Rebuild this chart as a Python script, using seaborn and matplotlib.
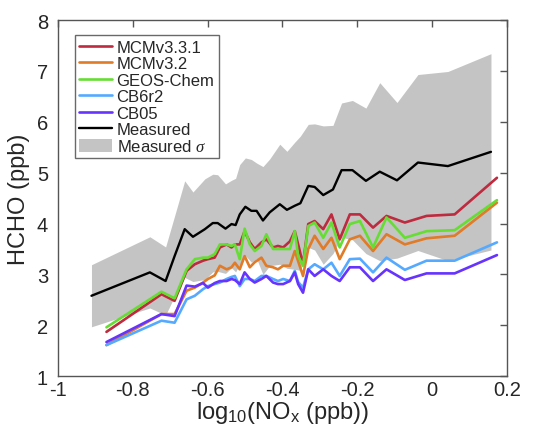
"""HCHO vs log10(NOx): box-model mechanisms against the measured mean and spread."""

import matplotlib

matplotlib.use("Agg")
import matplotlib.pyplot as plt
import seaborn as sns
from matplotlib.lines import Line2D
from matplotlib.patches import Patch

# measured binned mean and its standard deviation
measured_x = [-0.910, -0.754, -0.712, -0.688, -0.661, -0.639, -0.607, -0.586, -0.573,
              -0.552, -0.536, -0.525, -0.514, -0.499, -0.483, -0.469, -0.452, -0.434,
              -0.407, -0.388, -0.367, -0.352, -0.331, -0.314, -0.291, -0.265, -0.242,
              -0.213, -0.177, -0.140, -0.094, -0.038, 0.042, 0.157]
measured_hcho = [2.58, 3.04, 2.87, 3.36, 3.89, 3.74, 3.89, 4.01, 4.01,
                 3.90, 3.99, 3.97, 4.18, 4.33, 4.25, 4.25, 4.06, 4.22,
                 4.38, 4.27, 4.35, 4.40, 4.74, 4.72, 4.56, 4.67, 5.05,
                 5.05, 4.84, 5.02, 4.85, 5.20, 5.13, 5.41]
measured_sigma = [0.61, 0.70, 0.67, 0.79, 0.95, 0.88, 0.99, 0.96, 0.95,
                  0.88, 0.86, 0.92, 0.98, 0.96, 1.01, 0.94, 1.06, 1.05,
                  1.18, 1.15, 1.25, 1.32, 1.21, 1.24, 1.36, 1.26, 1.32,
                  1.37, 1.43, 1.75, 1.53, 1.73, 1.86, 1.93]

# model runs share their own NOx bins
model_x = [-0.870, -0.723, -0.688, -0.656, -0.634, -0.612, -0.599, -0.581, -0.567,
           -0.549, -0.536, -0.527, -0.514, -0.501, -0.487, -0.474, -0.456, -0.443,
           -0.425, -0.412, -0.398, -0.380, -0.367, -0.358, -0.345, -0.331, -0.314,
           -0.291, -0.269, -0.247, -0.220, -0.193, -0.158, -0.122, -0.073, -0.015,
           0.060, 0.173]
mcm331 = [1.87, 2.61, 2.48, 3.07, 3.20, 3.27, 3.30, 3.33, 3.53,
          3.59, 3.53, 3.59, 3.59, 3.85, 3.63, 3.50, 3.63, 3.69,
          3.53, 3.56, 3.53, 3.65, 3.85, 3.59, 3.20, 3.99, 4.05,
          3.89, 4.18, 3.69, 4.18, 4.18, 3.92, 4.15, 4.02, 4.15,
          4.18, 4.90]
mcm32 = [1.61, 2.22, 2.22, 2.68, 2.74, 2.84, 2.91, 2.98, 3.17,
         3.10, 3.14, 3.23, 3.10, 3.36, 3.14, 3.24, 3.33, 3.17,
         3.14, 3.10, 3.17, 3.17, 3.46, 3.26, 2.97, 3.50, 3.76,
         3.50, 3.72, 3.30, 3.69, 3.76, 3.46, 3.79, 3.59, 3.71,
         3.76, 4.41]
geos_chem = [1.96, 2.66, 2.53, 3.10, 3.30, 3.33, 3.33, 3.40, 3.59,
             3.59, 3.56, 3.59, 3.30, 3.90, 3.59, 3.46, 3.56, 3.79,
             3.50, 3.50, 3.50, 3.50, 3.85, 3.36, 3.17, 3.95, 4.02,
             3.72, 4.02, 3.53, 3.99, 4.05, 3.53, 4.12, 3.72, 3.85,
             3.87, 4.46]
cb6r2 = [1.61, 2.09, 2.05, 2.51, 2.58, 2.71, 2.77, 2.81, 2.84,
         2.91, 2.95, 2.97, 2.77, 2.91, 2.91, 2.87, 2.97, 2.97,
         2.91, 2.87, 2.91, 2.87, 3.07, 2.85, 2.74, 3.10, 3.20,
         3.10, 3.23, 2.97, 3.30, 3.31, 3.04, 3.33, 3.09, 3.27,
         3.27, 3.63]
cb05 = [1.67, 2.22, 2.18, 2.78, 2.76, 2.83, 2.74, 2.83, 2.87,
        2.87, 2.91, 2.89, 2.81, 3.04, 2.91, 2.84, 2.91, 2.97,
        2.84, 2.81, 2.81, 2.87, 3.04, 2.81, 2.64, 3.10, 2.97,
        3.10, 2.97, 2.87, 3.14, 3.14, 2.87, 3.10, 2.89, 3.02,
        3.02, 3.38]

model_names = ["MCMv3.3.1", "MCMv3.2", "GEOS-Chem", "CB6r2", "CB05"]
model_series = [mcm331, mcm32, geos_chem, cb6r2, cb05]
model_colors = ["#BE2A3E", "#E07B27", "#66DD33", "#55AAFF", "#6633FF"]

x_ticks = [-1, -0.8, -0.6, -0.4, -0.2, 0, 0.2]
x_tick_labels = ["-1", "-0.8", "-0.6", "-0.4", "-0.2", "0", "0.2"]
y_ticks = [1, 2, 3, 4, 5, 6, 7, 8]


def main() -> None:
    sns.set_theme(style="white")
    plt.rcParams["font.family"] = ["Liberation Sans", "DejaVu Sans"]
    plt.rcParams["mathtext.fontset"] = "custom"
    plt.rcParams["mathtext.rm"] = "Liberation Sans"
    plt.rcParams["mathtext.it"] = "Liberation Serif:italic"
    plt.rcParams["axes.unicode_minus"] = False

    fig = plt.figure(figsize=(5.4, 4.31), dpi=100)
    ax = fig.add_axes([0.107, 0.125, 0.832, 0.826])

    lower = [m - s for m, s in zip(measured_hcho, measured_sigma)]
    upper = [m + s for m, s in zip(measured_hcho, measured_sigma)]
    ax.fill_between(measured_x, lower, upper, color="#C4C4C4", linewidth=0, zorder=1)

    for name, values, color in zip(model_names, model_series, model_colors):
        sns.lineplot(x=model_x, y=values, color=color, linewidth=1.9, ax=ax, zorder=3)
    sns.lineplot(x=measured_x, y=measured_hcho, color="black", linewidth=1.7, ax=ax, zorder=4)

    ax.set_xlim(-1, 0.2)
    ax.set_ylim(1, 8)
    ax.set_xticks(x_ticks)
    ax.set_xticklabels(x_tick_labels)
    ax.set_yticks(y_ticks)
    ax.set_yticklabels([str(v) for v in y_ticks])
    ax.tick_params(direction="in", length=5, width=1, color="#555555",
                   top=True, right=True, labelsize=14.5)
    ax.tick_params(axis="x", pad=3)
    ax.tick_params(axis="y", pad=7)
    for spine in ax.spines.values():
        spine.set_color("#555555")
        spine.set_linewidth(1)

    ax.set_xlabel(r"log$_{\mathrm{10}}$(NO$_{\mathrm{x}}$ (ppb))", fontsize=17, labelpad=0)
    ax.set_ylabel("HCHO (ppb)", fontsize=17, labelpad=5)

    handles = [Line2D([], [], color=c, linewidth=1.9) for c in model_colors]
    handles.append(Line2D([], [], color="black", linewidth=1.7))
    handles.append(Patch(facecolor="#C4C4C4", edgecolor="none"))
    labels = model_names + ["Measured", r"Measured $\sigma$"]
    leg = ax.legend(handles, labels, loc="upper left", bbox_to_anchor=(0.038, 0.958),
                    borderaxespad=0, fontsize=12, frameon=True, fancybox=False,
                    handlelength=2.0, handletextpad=0.25, labelspacing=0.05,
                    borderpad=0.25, handleheight=0.9)
    leg.get_frame().set_edgecolor("#444444")
    leg.get_frame().set_linewidth(1)

    fig.savefig("out.png", dpi=100)
    plt.close(fig)


if __name__ == "__main__":
    main()
